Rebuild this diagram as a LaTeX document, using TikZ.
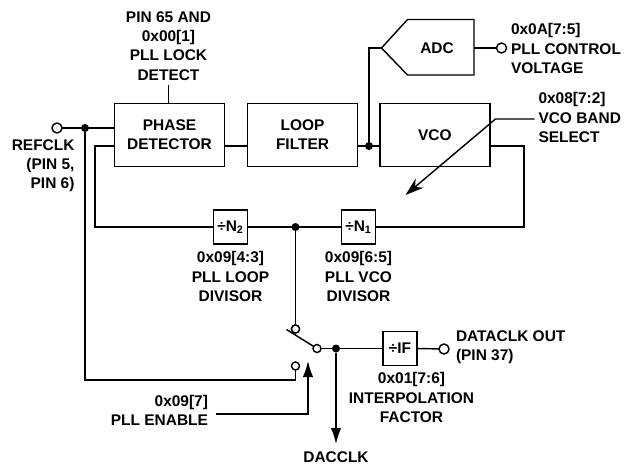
\documentclass[tikz,border=0pt]{standalone}
\usepackage{fontspec}
\setmainfont{Liberation Sans}
\usetikzlibrary{arrows.meta,positioning}

\begin{document}
\begin{tikzpicture}[
    x=0.25mm, y=-0.25mm,
    font=\fontsize{11}{13.6}\selectfont\bfseries,
    line width=0.36mm,
    block/.style={draw, minimum width=27.5mm, minimum height=15.75mm, align=center,
                  inner sep=0pt, outer sep=0pt},
    divider/.style={draw, minimum size=8.5mm, inner sep=0pt, outer sep=0pt},
    note/.style={inner sep=0pt, outer sep=0pt, align=center},
    dot/.style={circle, fill=black, minimum size=2mm, inner sep=0pt, outer sep=0pt},
    port/.style={circle, draw, fill=white, minimum size=2.5mm, inner sep=0pt, outer sep=0pt},
    contact/.style={circle, draw, fill=white, minimum size=2mm, inner sep=0pt, outer sep=0pt},
    arrow/.style={-{Latex[length=4mm, width=2.6mm]}},
    slant/.style={-{Stealth[length=4.6mm, width=3mm]}}
]
  \useasboundingbox (0,0) rectangle (626,464);

  \node[block] (phase) at (169.5,135) {PHASE\\DETECTOR};
  \node[block, right=5.75mm of phase] (loop) {LOOP\\FILTER};
  \node[block, right=5.6mm of loop] (vco) {VCO};
  \node[note] (adc) at (437,48) {ADC};
  \node[divider] (ntwo) at (230.5,227) {÷N\textsubscript{2}};
  \node[divider] (none) at (358.5,227) {÷N\textsubscript{1}};
  \node[divider] (ifac) at (400,348.5) {÷IF};

  \node[dot] (refdot) at (85,128) {};
  \node[dot] (filtdot) at (369,146) {};
  \node[dot] (divdot) at (295.5,227) {};
  \node[dot] (outdot) at (336,348.5) {};
  \node[port] (refport) at (57,128) {};
  \node[port] (adcport) at (501.5,48) {};
  \node[port] (dataport) at (444,349) {};
  \node[contact] (swtop) at (295.5,329) {};
  \node[contact] (swbot) at (295.5,366) {};

  % adc outline
  \coordinate (adctip) at (381.5,48);
  \coordinate (adcnw) at (407.5,19.5);
  \coordinate (adcne) at (474,19.5);
  \coordinate (adcse) at (474,75);
  \coordinate (adcsw) at (407.5,75);
  \draw (adctip) -- (adcnw) -- (adcne) -- (adcse) -- (adcsw) -- cycle;

  \node[note] (lockl) at (168.5,46) {PIN 65 AND\\0x00[1]\\PLL LOCK\\DETECT};
  \node[note, align=right, anchor=east] (refl) at (74.5,165.5) {REFCLK\\(PIN 5,\\PIN 6)};
  \node[note, align=left, anchor=west] (adcl) at (511,48.5) {0x0A[7:5]\\PLL CONTROL\\VOLTAGE};
  \node[note, align=left, anchor=west] (bandl) at (538.5,117.5) {0x08[7:2]\\VCO BAND\\SELECT};
  \node[note] (ntwol) at (230.5,276.5) {0x09[4:3]\\PLL LOOP\\DIVISOR};
  \node[note] (nonel) at (358.5,276.5) {0x09[6:5]\\PLL VCO\\DIVISOR};
  \node[note] (ifl) at (411.5,397.5) {0x01[7:6]\\INTERPOLATION\\FACTOR};
  \node[note, align=left, anchor=west] (datal) at (456,347.5) {DATACLK OUT\\(PIN 37)};
  \node[note, align=right, anchor=east] (enl) at (208,410) {0x09[7]\\PLL ENABLE};
  \node[note] (dacl) at (336,457) {DACCLK};

  \coordinate (lockend) at (168.5,85);
  \coordinate (armend) at (286.5,329.5);
  \coordinate (enend) at (308,361);
  \coordinate (enstart) at (216,414);
  \coordinate (dacend) at (336,444);
  \coordinate (bandstart) at (534.5,119);
  \coordinate (bandknee) at (495.5,119);
  \coordinate (bandend) at (405.5,195);
  \coordinate (fbleft) at (95,227);
  \coordinate (fbright) at (524,227);
  \coordinate (reflow) at (85,380);

  \draw (phase.north -| lockend) -- (lockend);
  \draw (refport) -- (phase.west |- refport);
  \draw (refdot) -- (reflow) -| (swbot);
  \draw (phase.west |- filtdot) -| (fbleft) -- (ntwo.west);
  \draw (ntwo.east) -- (none.west);
  \draw (none.east) -- (fbright) |- (vco.east |- filtdot);
  \draw (phase.east |- filtdot) -- (loop.west |- filtdot);
  \draw (loop.east |- filtdot) -- (vco.west |- filtdot);
  \draw (filtdot) |- (adctip);
  \draw (adcne |- adcport) -- (adcport);
  \draw[slant] (bandstart) -- (bandknee) -- (bandend);
  \draw (divdot) -- (swtop);

  \node[port, minimum size=2mm] (swout) at (317,348.5) {};
  \draw (armend) -- (swout);
  \node[contact] at (swtop) {};
  \draw (swout) -- (ifac.west);
  \draw (ifac.east) -- (dataport);
  \draw[arrow] (outdot) -- (dacend);
  \draw[arrow] (enstart) -| (enend);
\end{tikzpicture}
\end{document}
